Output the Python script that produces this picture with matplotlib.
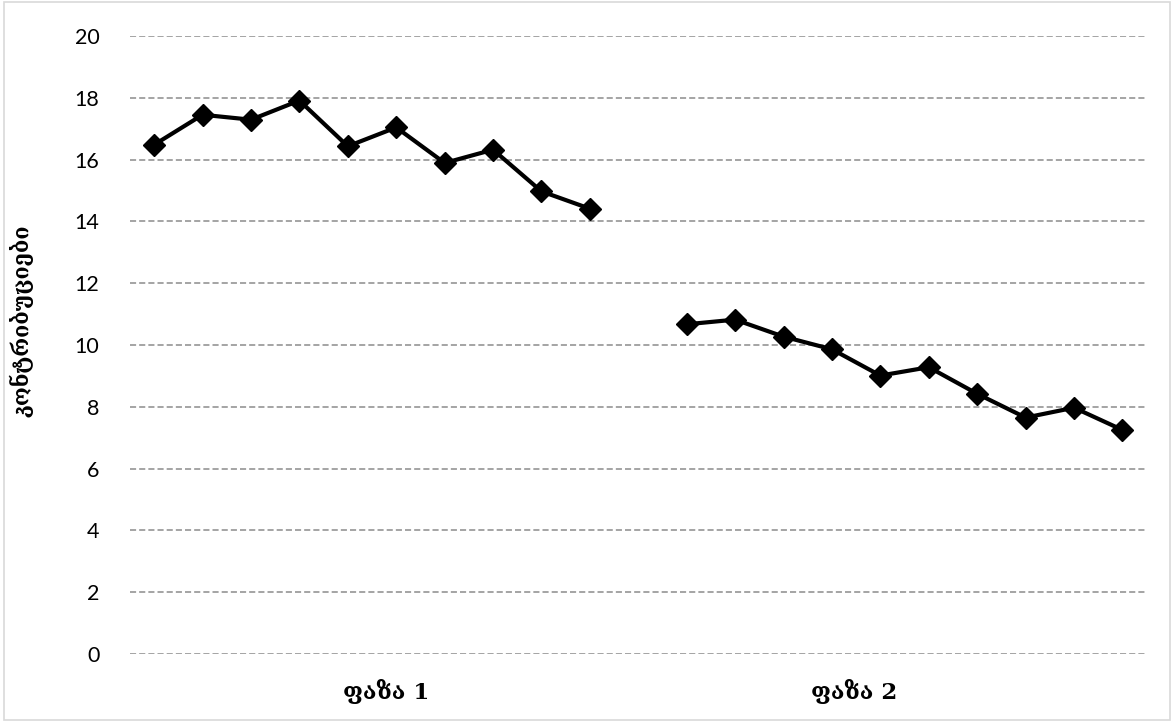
import numpy as np
import matplotlib.pyplot as plt

# values
phase1 = [16.48, 17.45, 17.29, 17.91, 16.43, 17.04, 15.89, 16.32, 14.97, 14.41]
phase2 = [10.67, 10.82, 10.27, 9.86, 9.01, 9.28, 8.42, 7.65, 7.97, 7.25]
phase_labels = ['ფაზა 1', 'ფაზა 2']
y_label = 'კონტრიბუციები'
y_ticks = list(range(0, 21, 2))

x1 = np.arange(len(phase1))
x2 = np.arange(len(phase2)) + len(phase1) + 1

fig = plt.figure(figsize=(11.74, 7.22), dpi=100)
ax = fig.add_axes([0.1107, 0.0942, 0.866, 0.856])

# light chart border
fig.patches.append(plt.Rectangle((0.003, 0.003), 0.994, 0.994, transform=fig.transFigure,
                                 fill=False, edgecolor='#d9d9d9', linewidth=1.2))

for xs, ys in [(x1, phase1), (x2, phase2)]:
    ax.plot(xs, ys, color='black', linewidth=3, marker='D', markersize=11,
            markerfacecolor='black', markeredgecolor='black', zorder=3)

ax.set_xlim(-0.5, len(phase1) + len(phase2) + 0.5)
ax.set_ylim(0, 20)
ax.set_yticks(y_ticks)
ax.yaxis.grid(True, linestyle=(0, (4, 2)), color='#8c8c8c', linewidth=1.1)
ax.set_axisbelow(True)
for s in ax.spines.values():
    s.set_visible(False)

ax.tick_params(axis='y', length=0, pad=22, labelsize=15.5)
for lab in ax.get_yticklabels():
    lab.set_fontfamily('Lato')

# category labels sit a bit off the group centres, as in the reference
centers = [x1.mean() + 0.3, x2.mean() - 1.05]
ax.set_xticks(centers)
ax.set_xticklabels(phase_labels, fontfamily='DejaVu Serif', fontsize=16.5, fontweight='bold')
ax.tick_params(axis='x', length=0, pad=18)

ax.set_ylabel(y_label, fontfamily='DejaVu Serif', fontsize=15.5, fontweight='bold')
ax.yaxis.set_label_coords(-0.095, 0.54)

fig.savefig('out.png', dpi=100)
